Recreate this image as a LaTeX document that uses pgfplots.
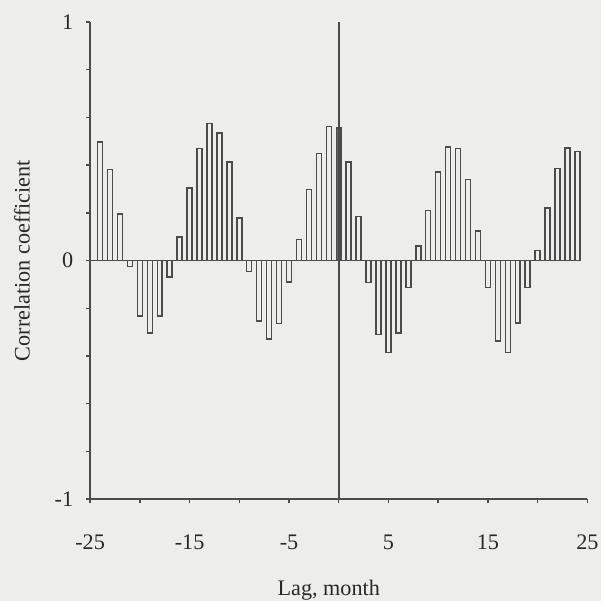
\documentclass[border=0pt]{standalone}
\usepackage{fontspec}
\setmainfont{Liberation Serif}
\usepackage{pgfplots}
\usepackage{pgfplotstable}
\pgfplotsset{compat=1.18}
\definecolor{paper}{RGB}{237,237,235}
\definecolor{ink}{RGB}{75,75,75}
\definecolor{txt}{RGB}{40,40,40}

% cross-correlation by lag (months)
\pgfplotstableread{
lag r
-24 0.497
-23 0.381
-22 0.195
-21 -0.024
-20 -0.233
-19 -0.303
-18 -0.233
-17 -0.070
-16 0.098
-15 0.304
-14 0.469
-13 0.573
-12 0.534
-11 0.413
-10 0.179
-9 -0.045
-8 -0.254
-7 -0.328
-6 -0.264
-5 -0.089
-4 0.088
-3 0.297
-2 0.448
-1 0.562
0 0.555
1 0.413
2 0.185
3 -0.093
4 -0.310
5 -0.386
6 -0.303
7 -0.114
8 0.060
9 0.210
10 0.371
11 0.476
12 0.469
13 0.339
14 0.123
15 -0.114
16 -0.338
17 -0.386
18 -0.261
19 -0.114
20 0.042
21 0.220
22 0.385
23 0.471
24 0.456
}\ccf

\begin{document}
\begin{tikzpicture}
\fill[paper] (0,0) rectangle (10cm,10cm);
\begin{axis}[
  at={(1.499cm,1.697cm)}, anchor=south west,
  scale only axis, width=8.27cm, height=7.94cm,
  xmin=-25, xmax=25, ymin=-1, ymax=1,
  clip=false,
  axis x line=bottom, axis y line=left,
  axis line style={-, ink, line width=0.7pt},
  xtick={-25,-15,-5,5,15,25}, xticklabels={-25,-15,-5,5,15,25},
  minor xtick={-20,-10,0,10,20},
  ytick={-1,0,1}, yticklabels={-1,0,1},
  minor ytick={-0.8,-0.6,-0.4,-0.2,0.2,0.4,0.6,0.8},
  tick align=outside, major tick length=2pt, minor tick length=2pt,
  tick style={ink, line width=0.7pt},
  every tick label/.append style={font=\fontsize{10.5}{12}\selectfont, text=txt},
  xticklabel style={yshift=-11.5pt},
  yticklabel style={xshift=-2.5pt},
  xlabel={Lag, month},
  xlabel style={at={(axis description cs:0.48,-0.201)}, anchor=base,
                font=\fontsize{10.5}{12}\selectfont, text=txt},
  ylabel={Correlation coefficient},
  ylabel style={at={(axis description cs:-0.137,0.5)}, anchor=center, rotate=0,
                font=\fontsize{10.5}{12}\selectfont, text=txt},
]
\addplot[ybar, bar width=0.5, bar shift=0pt, draw=ink, fill=paper, line width=0.7pt]
  table[x=lag, y=r] {\ccf};
\addplot[ybar, bar width=0.5, bar shift=0pt, draw=ink, fill=ink!85, line width=0.7pt]
  coordinates {(0,0.555)};
\addplot[ink, no marks, line width=0.7pt] coordinates {(-25,0) (24.25,0)};
\addplot[ink, no marks, line width=0.8pt] coordinates {(0,-1) (0,1)};
\end{axis}
\end{tikzpicture}
\end{document}
